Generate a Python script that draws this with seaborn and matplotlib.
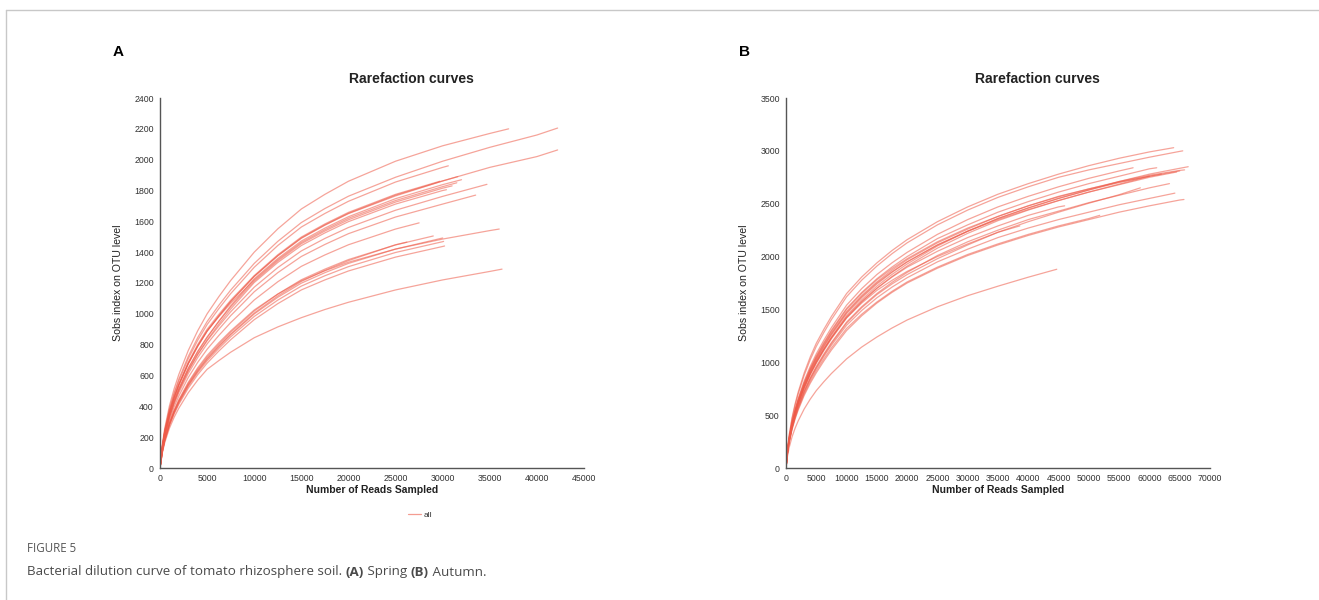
import matplotlib
matplotlib.use("Agg")
import matplotlib.pyplot as plt
from matplotlib.lines import Line2D
import seaborn as sns
import pandas as pd

# ---------------- data ----------------
A_grid = [0, 250, 500, 1000, 1500, 2000, 3000, 4000, 5000, 6250, 7500, 8750,
          10000, 12500, 15000, 17500, 20000, 25000, 30000, 35000, 40000]
A_depth = [37000, 42200, 42200, 30600, 31600, 32000, 31500, 31000, 30400,
           29700, 34700, 33500, 27500, 29000, 30000, 30200, 26200, 36000,
           36300, 30100]
A_sobs = [
    [0, 153, 257, 403, 514, 607, 762, 890, 1000, 1112, 1216, 1308, 1400, 1551, 1680, 1775, 1860, 1990, 2090, 2170, 2200],
    [0, 145, 244, 383, 488, 577, 724, 846, 950, 1056, 1154, 1240, 1327, 1470, 1592, 1683, 1763, 1886, 1990, 2080, 2160, 2205],
    [0, 136, 228, 357, 456, 538, 676, 789, 887, 986, 1079, 1160, 1242, 1376, 1490, 1575, 1650, 1765, 1862, 1950, 2020, 2063],
    [0, 142, 239, 375, 478, 565, 709, 828, 930, 1034, 1131, 1216, 1302, 1443, 1563, 1651, 1730, 1855, 1950, 1960],
    [0, 136, 228, 358, 456, 539, 677, 790, 888, 987, 1080, 1161, 1243, 1377, 1492, 1577, 1652, 1770, 1862, 1890],
    [0, 129, 217, 341, 435, 514, 645, 753, 846, 953, 1052, 1139, 1227, 1359, 1472, 1556, 1630, 1747, 1838, 1870],
    [0, 136, 229, 359, 457, 540, 678, 792, 890, 982, 1068, 1144, 1220, 1351, 1463, 1546, 1620, 1735, 1825, 1850],
    [0, 130, 218, 343, 437, 516, 648, 757, 850, 951, 1045, 1129, 1212, 1343, 1455, 1537, 1610, 1725, 1815, 1830],
    [0, 127, 213, 334, 427, 504, 632, 739, 830, 934, 1031, 1117, 1203, 1333, 1443, 1525, 1598, 1712, 1800, 1805],
    [0, 138, 231, 363, 463, 546, 686, 801, 900, 997, 1088, 1168, 1248, 1383, 1498, 1583, 1658, 1775, 1860],
    [0, 126, 212, 332, 424, 501, 629, 734, 825, 922, 1013, 1093, 1173, 1300, 1408, 1489, 1560, 1672, 1762, 1840],
    [0, 123, 207, 324, 414, 489, 613, 716, 805, 900, 988, 1065, 1143, 1267, 1372, 1450, 1520, 1628, 1712, 1770],
    [0, 118, 198, 310, 396, 467, 587, 685, 770, 860, 943, 1016, 1090, 1208, 1308, 1382, 1448, 1550, 1590],
    [0, 110, 185, 290, 370, 437, 549, 641, 720, 803, 881, 949, 1018, 1128, 1221, 1290, 1352, 1447, 1505],
    [0, 108, 181, 284, 362, 428, 537, 627, 705, 787, 864, 931, 999, 1107, 1199, 1267, 1327, 1420, 1492],
    [0, 104, 175, 274, 350, 413, 518, 605, 680, 759, 832, 897, 962, 1066, 1155, 1220, 1278, 1368, 1437, 1440],
    [0, 109, 182, 286, 365, 431, 541, 632, 710, 793, 869, 937, 1005, 1116, 1210, 1282, 1345, 1448, 1465],
    [0, 112, 188, 294, 375, 443, 556, 650, 730, 813, 889, 957, 1025, 1128, 1215, 1279, 1335, 1420, 1485, 1540, 1550],
    [0, 98, 164, 258, 329, 388, 488, 570, 640, 697, 751, 798, 845, 915, 975, 1028, 1075, 1155, 1220, 1275, 1290],
    [0, 106, 179, 280, 357, 422, 530, 619, 695, 776, 851, 917, 983, 1089, 1180, 1247, 1306, 1398, 1468, 1470],
]

B_grid = [0, 250, 500, 1000, 1500, 2000, 3000, 4000, 5000, 6250, 7500, 8750,
          10000, 12500, 15000, 17500, 20000, 25000, 30000, 35000, 40000,
          45000, 50000, 55000, 60000, 65000]
B_depth = [64000, 65500, 57300, 61200, 66400, 65800, 65000, 64500, 62000,
           63300, 64200, 65700, 51800, 46000, 38600, 44700, 60000, 58500]
B_sobs = [
    [0, 181, 303, 476, 607, 716, 899, 1050, 1180, 1312, 1434, 1542, 1650, 1807, 1940, 2057, 2160, 2330, 2470, 2590, 2690, 2780, 2860, 2930, 2990, 3030],
    [0, 176, 296, 463, 591, 698, 876, 1024, 1150, 1282, 1404, 1512, 1620, 1777, 1910, 2027, 2130, 2300, 2440, 2560, 2660, 2750, 2820, 2880, 2940, 2995, 3000],
    [0, 165, 278, 435, 555, 656, 823, 961, 1080, 1209, 1328, 1434, 1540, 1697, 1830, 1941, 2040, 2210, 2350, 2470, 2570, 2660, 2740, 2810, 2840],
    [0, 162, 272, 427, 545, 643, 808, 943, 1060, 1186, 1303, 1407, 1510, 1661, 1790, 1901, 2000, 2170, 2300, 2420, 2520, 2610, 2690, 2760, 2830, 2840],
    [0, 153, 257, 403, 514, 607, 762, 890, 1000, 1123, 1238, 1339, 1440, 1591, 1720, 1831, 1930, 2100, 2240, 2360, 2460, 2550, 2630, 2710, 2780, 2835, 2850],
    [0, 159, 267, 419, 535, 631, 792, 926, 1040, 1163, 1278, 1379, 1480, 1631, 1760, 1871, 1970, 2130, 2260, 2380, 2480, 2570, 2640, 2710, 2770, 2815, 2820],
    [0, 156, 262, 411, 524, 619, 777, 908, 1020, 1143, 1258, 1359, 1460, 1611, 1740, 1851, 1950, 2110, 2240, 2360, 2460, 2550, 2630, 2700, 2760, 2810],
    [0, 151, 254, 399, 509, 601, 754, 881, 990, 1110, 1222, 1321, 1420, 1571, 1700, 1811, 1910, 2080, 2220, 2340, 2440, 2530, 2610, 2680, 2750, 2800],
    [0, 161, 270, 423, 540, 637, 800, 935, 1050, 1176, 1293, 1397, 1500, 1651, 1780, 1886, 1980, 2140, 2270, 2380, 2480, 2565, 2640, 2705, 2760, 2780],
    [0, 147, 247, 387, 493, 583, 732, 854, 960, 1078, 1187, 1283, 1380, 1526, 1650, 1756, 1850, 2010, 2140, 2250, 2350, 2430, 2510, 2580, 2650, 2690],
    [0, 144, 242, 379, 483, 571, 716, 837, 940, 1055, 1161, 1256, 1350, 1490, 1610, 1711, 1800, 1950, 2070, 2180, 2270, 2350, 2420, 2490, 2550, 2600],
    [0, 138, 231, 363, 463, 546, 686, 801, 900, 1012, 1116, 1208, 1300, 1440, 1560, 1661, 1750, 1890, 2010, 2110, 2200, 2280, 2350, 2420, 2480, 2535, 2540],
    [0, 141, 236, 371, 473, 558, 701, 819, 920, 1032, 1136, 1228, 1320, 1455, 1570, 1671, 1760, 1900, 2020, 2120, 2210, 2290, 2360, 2390],
    [0, 153, 257, 403, 514, 607, 762, 890, 1000, 1120, 1232, 1331, 1430, 1576, 1700, 1806, 1900, 2050, 2180, 2290, 2390, 2470, 2480],
    [0, 155, 260, 407, 519, 613, 770, 899, 1010, 1125, 1231, 1326, 1420, 1560, 1680, 1775, 1860, 2000, 2120, 2230, 2290],
    [0, 112, 188, 295, 376, 444, 558, 651, 732, 816, 894, 963, 1032, 1144, 1239, 1324, 1400, 1525, 1630, 1720, 1805, 1880],
    [0, 158, 265, 415, 529, 625, 785, 917, 1030, 1153, 1268, 1369, 1470, 1621, 1750, 1856, 1950, 2110, 2240, 2350, 2445, 2530, 2610, 2685, 2760],
    [0, 145, 244, 383, 488, 577, 724, 846, 950, 1068, 1177, 1273, 1370, 1516, 1640, 1741, 1830, 1980, 2110, 2230, 2330, 2420, 2505, 2585, 2650],
]

A_xticks = list(range(0, 45001, 5000))
A_yticks = list(range(0, 2401, 200))
B_xticks = list(range(0, 70001, 5000))
B_yticks = list(range(0, 3501, 500))

TITLE = "Rarefaction curves"
XLABEL = "Number of Reads Sampled"
YLABEL = "Sobs index on OTU level"
LEGEND_LABEL = "all"
FIG_LABEL = "FIGURE 5"
CAPTION_PARTS = [("Bacterial dilution curve of tomato rhizosphere soil. ", "normal"),
                 ("(A)", "bold"), (" Spring ", "normal"), ("(B)", "bold"),
                 (" Autumn.", "normal")]


def to_long(grid, depth, sobs):
    rows = []
    for i, (d, vals) in enumerate(zip(depth, sobs)):
        xs = [g for g in grid if g < d][:len(vals) - 1] + [d]
        for x, y in zip(xs, vals):
            rows.append({"sample": i, "reads": x, "sobs": y})
    return pd.DataFrame(rows)


# ---------------- figure ----------------
sns.set_theme(style="white")
plt.rcParams["font.family"] = ["Liberation Sans", "DejaVu Sans"]

W, H = 1319, 600
fig = plt.figure(figsize=(W / 100, H / 100), dpi=100)

LINE_COLOR = "#EE5A48"
AX_COLOR = "#555555"


def px_rect(x0, x1, ytop, ybot):
    return [x0 / W, 1 - ybot / H, (x1 - x0) / W, (ybot - ytop) / H]


def style_axes(ax, xticks, yticks):
    ax.set_xlim(xticks[0], xticks[-1])
    ax.set_ylim(yticks[0], yticks[-1])
    ax.set_xticks(xticks)
    ax.set_yticks(yticks)
    ax.tick_params(axis="both", direction="out", length=3, width=0.8,
                   color=AX_COLOR, labelsize=6.3, labelcolor="#333333", pad=1.5)
    for s in ["top", "right"]:
        ax.spines[s].set_visible(False)
    for s in ["left", "bottom"]:
        ax.spines[s].set_color(AX_COLOR)
        ax.spines[s].set_linewidth(1.0)
    ax.set_title(TITLE, fontsize=10, fontweight="bold", color="#222222",
                 pad=11, x=0.594)
    ax.set_xlabel(XLABEL, fontsize=7.5, fontweight="bold", color="#222222", labelpad=1)
    ax.set_ylabel(YLABEL, fontsize=7.6, color="#222222", labelpad=8)
    ax.grid(False)
    ax.set_facecolor("white")


axA = fig.add_axes(px_rect(160, 584, 98, 468))
dfA = to_long(A_grid, A_depth, A_sobs)
sns.lineplot(data=dfA, x="reads", y="sobs", units="sample", estimator=None,
             color=LINE_COLOR, alpha=0.55, linewidth=0.9, legend=False, ax=axA)
style_axes(axA, A_xticks, A_yticks)

axB = fig.add_axes(px_rect(786, 1210, 98, 468))
dfB = to_long(B_grid, B_depth, B_sobs)
sns.lineplot(data=dfB, x="reads", y="sobs", units="sample", estimator=None,
             color=LINE_COLOR, alpha=0.55, linewidth=0.9, legend=False, ax=axB)
style_axes(axB, B_xticks, B_yticks)

# legend of panel A
handle = Line2D([], [], color=LINE_COLOR, alpha=0.6, linewidth=0.9)
fig.legend([handle], [LEGEND_LABEL], loc="center left",
           bbox_to_anchor=(400 / W, 1 - 515 / H), frameon=False,
           fontsize=6, handlelength=1.6, handletextpad=0.3, labelcolor="#333333")

# panel letters
fig.text(113 / W, 1 - 52 / H, "A", fontsize=11, fontweight="bold",
         va="center", ha="left", color="black")
fig.text(739 / W, 1 - 52 / H, "B", fontsize=11, fontweight="bold",
         va="center", ha="left", color="black")

# frame lines
fig.add_artist(Line2D([6 / W, 1], [1 - 9.5 / H, 1 - 9.5 / H],
                      transform=fig.transFigure, color="#c8c8c8", linewidth=1))
fig.add_artist(Line2D([6 / W, 6 / W], [0, 1 - 9.5 / H],
                      transform=fig.transFigure, color="#c8c8c8", linewidth=1))

# caption
cap_font = ["Open Sans", "DejaVu Sans"]
fig.text(27 / W, 1 - 549 / H, FIG_LABEL, fontsize=8.3, family=cap_font,
         color="#555555", va="center", ha="left")
fig.canvas.draw()
renderer = fig.canvas.get_renderer()
x = 27 / W
for txt, wt in CAPTION_PARTS:
    t = fig.text(x, 1 - 572 / H, txt, fontsize=9.6, family=cap_font,
                 fontweight=wt, color="#4a4a4a", va="center", ha="left")
    bb = t.get_window_extent(renderer=renderer)
    x += bb.width / W

fig.savefig("out.png", dpi=100, facecolor="white")
